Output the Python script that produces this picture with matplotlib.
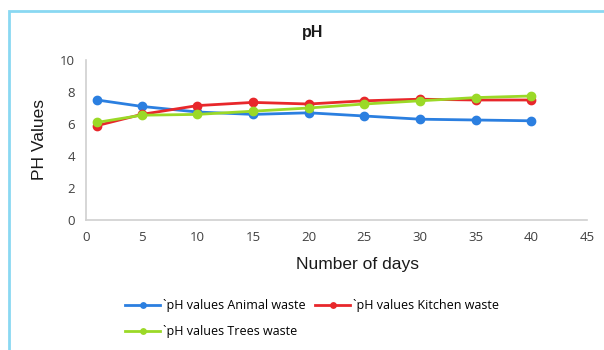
import matplotlib
matplotlib.use("Agg")
import matplotlib.pyplot as plt
from matplotlib.patches import Rectangle

days = [1, 5, 10, 15, 20, 25, 30, 35, 40]
ph_animal = [7.5, 7.1, 6.75, 6.6, 6.7, 6.5, 6.3, 6.25, 6.2]
ph_kitchen = [5.9, 6.6, 7.15, 7.35, 7.25, 7.45, 7.55, 7.5, 7.5]
ph_trees = [6.1, 6.55, 6.6, 6.8, 7.0, 7.25, 7.45, 7.65, 7.75]
labels = ["`pH values Animal waste", "`pH values Kitchen waste", "`pH values Trees waste"]
colors = ["#2b7fe0", "#e8272b", "#9bd927"]

plt.rcParams['font.family'] = ['Open Sans', 'DejaVu Sans']

fig = plt.figure(figsize=(6.04, 3.5), dpi=100)
ax = fig.add_axes([86 / 604, 1 - 220 / 350, 501 / 604, 160 / 350])

# outer chart border (light blue)
fig.patches.append(Rectangle((9 / 604, -0.1), 1.2, 1 - 11 / 350 + 0.1,
                             transform=fig.transFigure, fill=False,
                             edgecolor="#8ad8f2", linewidth=2))

lines = []
for ys, c, lab in zip([ph_animal, ph_kitchen, ph_trees], colors, labels):
    ln, = ax.plot(days, ys, color=c, lw=2, marker="o", ms=6, label=lab)
    lines.append(ln)

ax.set_xlim(0, 45)
ax.set_ylim(0, 10)
ax.set_xticks(range(0, 46, 5))
ax.set_yticks(range(0, 11, 2))
ax.tick_params(length=0, labelsize=9.5, colors="#404040", pad=8)
for s in ["top", "right"]:
    ax.spines[s].set_visible(False)
for s in ["left", "bottom"]:
    ax.spines[s].set_color("#d0d0d0")
    ax.spines[s].set_linewidth(1.2)

fig.text(313 / 604, 1 - 32 / 350, "pH", ha="center", va="center",
         fontsize=11.5, fontweight="bold", color="#1a1a1a",
         family="Liberation Sans")
fig.text(40 / 604, 1 - 140 / 350, "PH Values", rotation=90, ha="center",
         va="center", fontsize=12.5, color="#1a1a1a", family="Liberation Sans")
fig.text(357 / 604, 1 - 265 / 350, "Number of days", ha="center",
         va="center", fontsize=12.5, color="#1a1a1a", family="Liberation Sans")

fig.legend(handles=lines[:2], loc="center left",
           bbox_to_anchor=(114 / 604, 1 - 306 / 350), ncol=2,
           frameon=False, fontsize=9, handlelength=2.8,
           handletextpad=0.2, columnspacing=0.8, markerscale=0.65)
fig.legend(handles=lines[2:], loc="center left",
           bbox_to_anchor=(114 / 604, 1 - 332 / 350), frameon=False,
           fontsize=9, handlelength=2.8, handletextpad=0.2, markerscale=0.65)

plt.savefig("out.png", dpi=100)
